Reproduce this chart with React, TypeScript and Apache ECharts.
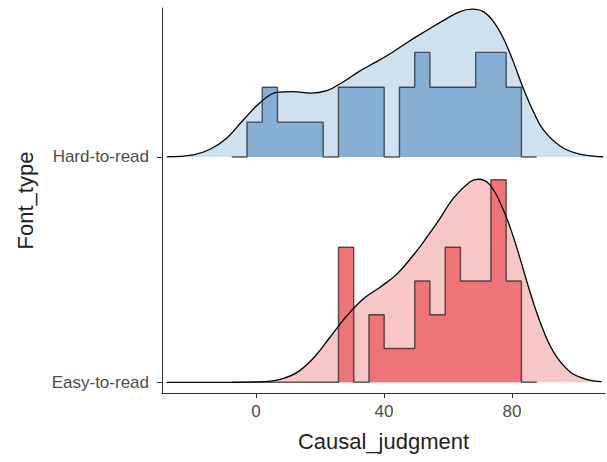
import React, { useEffect, useRef } from "react";
import * as echarts from "echarts";

// Categories (row order bottom -> top)
const categories = ["Easy-to-read", "Hard-to-read"];
const xTicks = [0, 40, 80];

// Histogram bins
const binStart = -7.6;
const binWidth = 4.765;
const hardCounts = [0, 1, 2, 1, 1, 1, 0, 2, 2, 2, 0, 2, 3, 2, 2, 2, 3, 3, 2, 0];
const easyCounts = [0, 0, 0, 0, 0, 0, 0, 4, 0, 2, 1, 1, 3, 2, 4, 3, 3, 6, 3, 0];

// Ridge densities (height in row units)
const hardDensX = [-27.9, -19.6, -14.4, -9.2, -4.0, 1.25, 6.5, 11.7, 16.9, 22.1, 27.3, 32.5, 37.7, 42.9, 48.1, 53.3, 58.5, 63.75, 67.5, 71.0, 74.2, 77.3, 80.4, 83.5, 86.7, 89.8, 95.0, 100.2, 105.4, 108.5];
const hardDensY = [0, 0.009, 0.034, 0.083, 0.164, 0.241, 0.287, 0.29, 0.283, 0.294, 0.334, 0.382, 0.423, 0.467, 0.516, 0.561, 0.605, 0.645, 0.656, 0.645, 0.601, 0.527, 0.423, 0.305, 0.201, 0.12, 0.049, 0.016, 0.004, 0.001];
const easyDensX = [-27.9, -10, 2.3, 7.5, 12.7, 17.9, 23.1, 28.3, 33.5, 38.75, 44.0, 49.2, 51.25, 56.5, 61.7, 66.9, 69.5, 73.1, 77.3, 80.4, 82.5, 85.6, 88.75, 92.9, 98.1, 103.3, 108.0];
const easyDensY = [0, 0, 0.003, 0.013, 0.043, 0.107, 0.2, 0.294, 0.37, 0.422, 0.48, 0.565, 0.602, 0.706, 0.817, 0.89, 0.901, 0.876, 0.765, 0.646, 0.55, 0.402, 0.269, 0.136, 0.047, 0.013, 0.003];

const histK = 22.85;

function histPoints(counts: number[], base: number) {
  const n = counts.reduce((a, b) => a + b, 0);
  const s = histK / (n * binWidth);
  const pts: number[][] = [[binStart, base]];
  counts.forEach((c, i) => {
    const x0 = binStart + i * binWidth;
    const x1 = x0 + binWidth;
    pts.push([x0, base + c * s]);
    pts.push([x1, base + c * s]);
  });
  pts.push([binStart + counts.length * binWidth, base]);
  return pts;
}

function densPoints(xs: number[], ys: number[], base: number) {
  return xs.map((x, i) => [x, base + ys[i]]);
}

export default function App() {
  const ref = useRef<HTMLDivElement>(null);
  useEffect(() => {
    document.body.style.margin = "0";
    if (!ref.current) return;
    const chart = echarts.init(ref.current, undefined, { renderer: "svg" });
    const groups = [
      { base: 1, dx: hardDensX, dy: hardDensY, counts: hardCounts, dfill: "#cfe0ee", hfill: "#86afd4" },
      { base: 0, dx: easyDensX, dy: easyDensY, counts: easyCounts, dfill: "#f7c6c7", hfill: "#ee7477" },
    ];
    const series: any[] = [];
    groups.forEach((g) => {
      series.push({
        type: "line",
        data: densPoints(g.dx, g.dy, g.base),
        symbol: "none",
        smooth: 0.4,
        lineStyle: { width: 0, opacity: 0 },
        areaStyle: { color: g.dfill, opacity: 1, origin: g.base },
        silent: true,
      });
      series.push({
        type: "line",
        data: histPoints(g.counts, g.base),
        symbol: "none",
        lineStyle: { width: 1.4, color: "rgba(20,20,20,0.68)" },
        areaStyle: { color: g.hfill, opacity: 1, origin: g.base },
        silent: true,
      });
      series.push({
        type: "line",
        data: densPoints(g.dx, g.dy, g.base),
        symbol: "none",
        smooth: 0.4,
        lineStyle: { width: 1.3, color: "#000" },
        silent: true,
      });
    });
    chart.setOption({
      animation: false,
      grid: { left: 162, right: 2, top: 8, bottom: 69, containLabel: false },
      xAxis: {
        type: "value",
        min: -29.4,
        max: 109.06,
        name: "Causal_judgment",
        nameLocation: "middle",
        nameGap: 37,
        nameTextStyle: { fontSize: 22, color: "#222", fontFamily: "Liberation Sans" },
        axisLine: { show: true, onZero: false, lineStyle: { color: "#333", width: 1.1 } },
        axisTick: { show: true, length: 5, customValues: xTicks, lineStyle: { color: "#333" } },
        axisLabel: { customValues: xTicks, fontSize: 17, color: "#4d4d4d", margin: 10, fontFamily: "Liberation Sans" },
        splitLine: { show: false },
      },
      yAxis: {
        type: "value",
        min: -0.0475,
        max: 1.661,
        name: "Font_type",
        nameLocation: "middle",
        nameGap: 126,
        nameRotate: 90,
        nameTextStyle: { fontSize: 22, color: "#222", fontFamily: "Liberation Sans" },
        axisLine: { show: true, onZero: false, lineStyle: { color: "#333", width: 1.1 } },
        axisTick: { show: true, length: 5, customValues: [0, 1], lineStyle: { color: "#333" } },
        axisLabel: {
          customValues: [0, 1],
          fontSize: 17,
          color: "#4d4d4d",
          margin: 13,
          fontFamily: "Liberation Sans",
          formatter: (v: number) => categories[Math.round(v)] ?? "",
        },
        splitLine: { show: false },
      },
      series,
    });
    return () => chart.dispose();
  }, []);
  return <div ref={ref} style={{ width: 607, height: 462 }} />;
}
